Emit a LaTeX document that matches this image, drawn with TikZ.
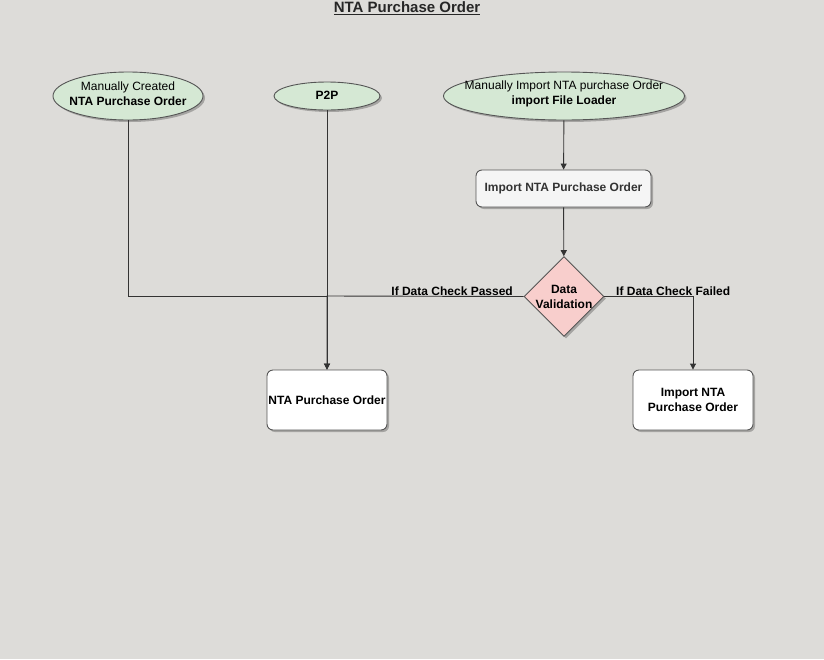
\documentclass[tikz,border=0pt]{standalone}
\usepackage{fontspec}
\setmainfont{Liberation Sans}
\usetikzlibrary{shapes.geometric,shadows,arrows.meta}
\definecolor{bg}{HTML}{DDDCD9}
\definecolor{greenfill}{HTML}{D5E8D4}
\definecolor{redfill}{HTML}{F8CECC}
\definecolor{greyfill}{HTML}{F5F5F5}
\definecolor{strokec}{HTML}{555555}
\tikzset{
  x=1pt,y=-1pt,
  shd/.style={drop shadow={shadow xshift=2pt,shadow yshift=-2pt,opacity=0.25,fill=black}},
  oval/.style={ellipse,draw=strokec,fill=greenfill,line width=0.9pt,inner sep=0pt,shd},
  ovaltext/.style={align=center,inner sep=0pt,font=\fontsize{12}{15}\selectfont},
  box/.style={rectangle,rounded corners=6pt,draw=strokec,fill=white,line width=0.9pt,inner sep=0pt,shd,align=center,font=\bfseries\fontsize{12}{15}\selectfont},
  conn/.style={draw=black!80,line width=0.9pt},
  arr/.style={conn,-{Triangle[length=6pt,width=6pt]}},
  lbl/.style={font=\bfseries\fontsize{12}{14}\selectfont,inner sep=1pt},
}
\begin{document}
\begin{tikzpicture}
\fill[bg] (0,0) rectangle (824,659);
\useasboundingbox (0,0) rectangle (824,659);
\node[font=\bfseries\fontsize{15}{17}\selectfont,inner sep=0pt,text=black!85] (title) at (407,8) {\underline{NTA Purchase Order}};
\node[oval,minimum width=150pt,minimum height=48pt] (mc) at (128,96) {};
\node[ovaltext] (mct) at (128,94) {Manually Created\\\textbf{NTA Purchase Order}};
\node[oval,minimum width=106pt,minimum height=28pt] (p2p) at (327,96) {};
\node[ovaltext,font=\bfseries\fontsize{12}{15}\selectfont] (p2pt) at (327,95) {P2P};
\node[oval,minimum width=241pt,minimum height=48pt] (mi) at (564,96) {};
\node[ovaltext] (mit) at (564,94) {Manually Import NTA purchase Order\\\textbf{import File Loader}};
\node[box,fill=greyfill,text=black!80,minimum width=175pt,minimum height=37pt] (imp) at (563.5,188.5) {Import NTA Purchase Order};
\node[diamond,draw=strokec,fill=redfill,line width=0.9pt,inner sep=0pt,minimum width=80pt,minimum height=79pt,shd,align=center,font=\bfseries\fontsize{12}{15}\selectfont] (dv) at (564,296.5) {Data\\Validation};
\node[box,minimum width=120pt,minimum height=60pt] (npo) at (327,400) {NTA Purchase Order};
\node[box,minimum width=120pt,minimum height=60pt] (ipo) at (693,400) {Import NTA\\Purchase Order};
\coordinate (j) at (327,296);
\draw[arr] (mi) -- (imp);
\draw[arr] (imp) -- (dv);
\draw[arr] (p2p) -- (npo);
\draw[conn] (mc.south) |- (j);
\draw[arr] (dv.west) -- (j) -- (npo.north);
\draw[arr] (dv.east) -| (ipo.north);
\node[lbl,anchor=south east] (lp) at (514,297) {If Data Check Passed};
\node[lbl,anchor=south west] (lf) at (615,297) {If Data Check Failed};
\end{tikzpicture}
\end{document}
